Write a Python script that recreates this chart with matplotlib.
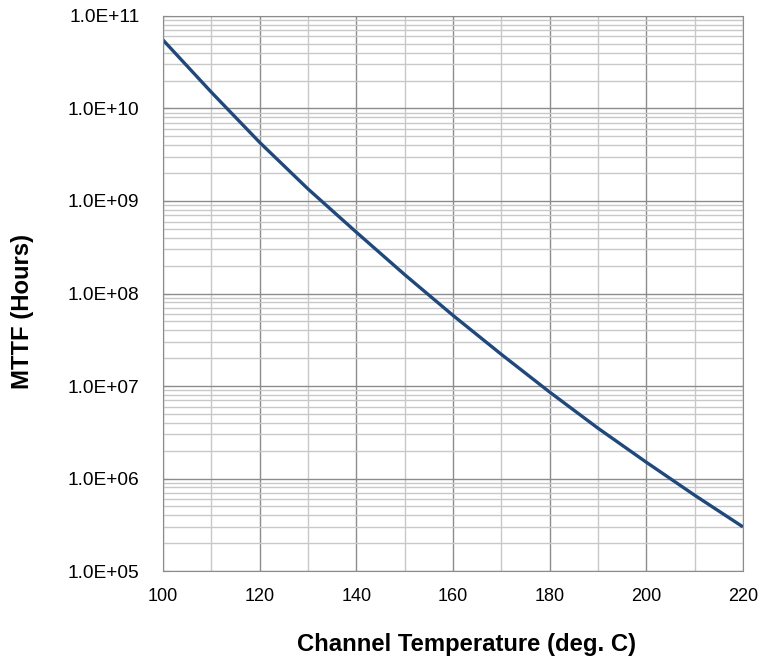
#MTTF vs channel temperature
import numpy as np
import matplotlib.pyplot as plt
from matplotlib.ticker import LogLocator, FuncFormatter, MultipleLocator

plt.rcParams['font.family'] = ['Liberation Sans', 'DejaVu Sans']

#data
temp = [100, 110, 120, 130, 140, 150, 160, 170, 180, 190, 200, 210, 220]
mttf = [5.5e10, 1.5e10, 4.3e9, 1.35e9, 4.6e8, 1.6e8, 5.8e7, 2.2e7, 8.6e6, 3.5e6, 1.5e6, 6.6e5, 3.0e5]

fig = plt.figure(figsize=(7.61, 6.6), dpi=100)
ax = fig.add_axes([0.2142, 0.1348, 0.7621, 0.8410])
ax.plot(temp, mttf, color='#1f497d', lw=2.4, solid_capstyle='butt')
ax.set_yscale('log')
ax.set_xlim(100, 220)
ax.set_ylim(1e5, 1e11)

ax.xaxis.set_major_locator(MultipleLocator(20))
ax.xaxis.set_minor_locator(MultipleLocator(10))
ax.yaxis.set_major_locator(LogLocator(base=10, numticks=20))
ax.yaxis.set_minor_locator(LogLocator(base=10, subs=np.arange(2, 10), numticks=20))
ax.yaxis.set_minor_formatter(FuncFormatter(lambda v, p: ''))
ax.yaxis.set_major_formatter(FuncFormatter(lambda v, p: '1.0E+%02d' % round(np.log10(v))))

ax.grid(which='major', color='#8c8c8c', lw=1.0)
ax.grid(which='minor', color='#c8c8c8', lw=1.0)
ax.set_axisbelow(True)
for s in ax.spines.values():
    s.set_color('#8c8c8c')
ax.tick_params(which='both', length=0)
ax.tick_params(axis='x', pad=12, labelsize=13)
ax.tick_params(axis='y', which='major', direction='in', length=4, color='#8c8c8c',
               pad=17, labelsize=13.8)

fig.text(467/761, 1 - 644/660, 'Channel Temperature (deg. C)', fontsize=17.2, fontweight='bold',
         ha='center', va='center')
fig.text(23/761, 1 - 311/660, 'MTTF (Hours)', fontsize=17.2, fontweight='bold',
         ha='center', va='center', rotation=90)

plt.savefig('out.png', dpi=100)
